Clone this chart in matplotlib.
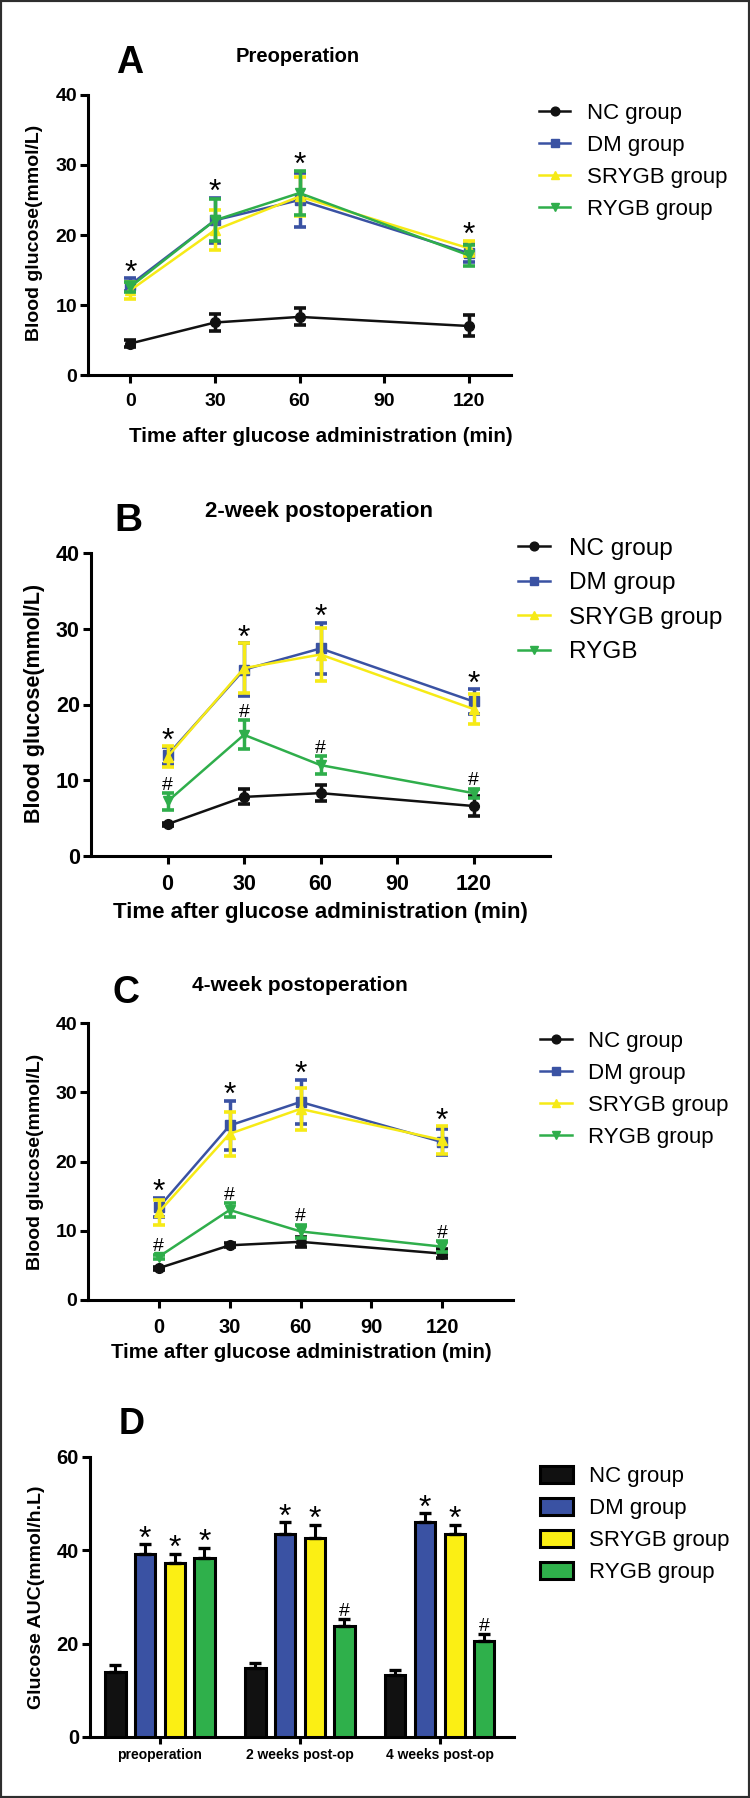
import matplotlib
matplotlib.use('Agg')
import matplotlib.pyplot as plt
from matplotlib.patches import Rectangle
import numpy as np

plt.rcParams['font.family'] = ['Liberation Sans', 'DejaVu Sans']

# ---------------- data ----------------
times = [0, 30, 60, 120]
xticks_line = [0, 30, 60, 90, 120]
yticks_line = [0, 10, 20, 30, 40]
group_names = ['NC group', 'DM group', 'SRYGB group', 'RYGB group']
group_names_B = ['NC group', 'DM group', 'SRYGB group', 'RYGB']

# Panel A: preoperation
a_nc = [4.5, 7.5, 8.3, 7.0]
a_nc_err = [0.5, 1.15, 1.2, 1.5]
a_dm = [12.9, 22.1, 25.0, 17.4]
a_dm_err = [0.9, 3.2, 3.9, 1.3]
a_sr = [12.1, 20.7, 25.5, 18.1]
a_sr_err = [1.2, 2.9, 2.8, 1.1]
a_ry = [12.6, 22.1, 26.0, 17.1]
a_ry_err = [0.7, 3.0, 3.2, 1.5]
a_star = ['*', '*', '*', '*']
a_hash = ['', '', '', '']

# Panel B: 2-week postoperation
b_nc = [4.2, 7.8, 8.3, 6.6]
b_nc_err = [0.2, 1.0, 1.1, 1.3]
b_dm = [13.3, 24.6, 27.4, 20.4]
b_dm_err = [1.1, 3.5, 3.4, 1.6]
b_sr = [13.1, 24.8, 26.6, 19.4]
b_sr_err = [1.4, 3.3, 3.5, 2.0]
b_ry = [7.2, 16.0, 12.0, 8.3]
b_ry_err = [1.1, 1.9, 1.2, 0.6]
b_star = ['*', '*', '*', '*']
b_hash = ['#', '#', '#', '#']

# Panel C: 4-week postoperation
c_nc = [4.6, 7.9, 8.4, 6.7]
c_nc_err = [0.2, 0.3, 0.7, 0.7]
c_dm = [13.4, 25.2, 28.6, 22.8]
c_dm_err = [1.4, 3.6, 3.2, 1.9]
c_sr = [12.7, 24.0, 27.6, 23.1]
c_sr_err = [1.8, 3.2, 3.0, 2.0]
c_ry = [6.25, 13.0, 9.9, 7.7]
c_ry_err = [0.3, 1.0, 1.0, 0.8]
c_star = ['*', '*', '*', '*']
c_hash = ['#', '#', '#', '#']

# Panel D: glucose AUC
d_cats = ['preoperation', '2 weeks post-op', '4 weeks post-op']
d_nc = [14.0, 14.7, 13.2]
d_nc_err = [1.4, 1.2, 1.1]
d_dm = [39.2, 43.5, 46.0]
d_dm_err = [2.1, 2.5, 1.9]
d_sr = [37.2, 42.6, 43.4]
d_sr_err = [2.1, 2.9, 2.1]
d_ry = [38.4, 23.8, 20.5]
d_ry_err = [2.2, 1.4, 1.5]
d_marks = [['', '*', '*', '*'], ['', '*', '*', '#'], ['', '*', '*', '#']]
yticks_bar = [0, 20, 40, 60]

# ---------------- style ----------------
line_colors = ['#111111', '#3A52A3', '#F6EA16', '#2FAE4B']
bar_colors = ['#111111', '#3A52A3', '#FBEF14', '#2FB04B']
line_markers = ['o', 's', '^', 'v']
STAR_FS, STAR_OFF = 23, -2.5
HASH_FS, HASH_OFF = 14, 2.5

W, H = 750, 1798
fig = plt.figure(figsize=(W / 100, H / 100), dpi=100)


def fx(px):
    return px / W


def fy(py):
    return 1 - py / H


def style_axes(ax, xsize, ysize, xpad):
    for s in ['top', 'right']:
        ax.spines[s].set_visible(False)
    for s in ['left', 'bottom']:
        ax.spines[s].set_linewidth(2.2)
    ax.tick_params(axis='both', width=2.2, length=6, direction='out')
    ax.tick_params(axis='y', labelsize=ysize, pad=2)
    ax.tick_params(axis='x', labelsize=xsize, pad=xpad)
    for lbl in ax.get_xticklabels() + ax.get_yticklabels():
        lbl.set_fontweight('bold')


def mark(ax, sym, x, top):
    if sym == '*':
        fs, off = STAR_FS, STAR_OFF
    else:
        fs, off = HASH_FS, HASH_OFF
    ax.annotate(sym, xy=(x, top), xytext=(0, off), textcoords='offset points',
                ha='center', va='baseline', fontsize=fs, zorder=10)


def line_panel(rect, xlim, means, errs, stars, hashes, labels,
               tick_fs, xtick_fs, leg_anchor, leg_fs, leg_hl, leg_pad, leg_sp):
    ax = fig.add_axes(rect)
    conts = []
    for g in range(4):
        c = ax.errorbar(times, means[g], yerr=errs[g], color=line_colors[g],
                        marker=line_markers[g], ms=7, lw=1.8, elinewidth=2.5,
                        capsize=4.3, capthick=2.6, zorder=3 + g)
        conts.append(c)
    ax.set_xlim(*xlim)
    ax.set_ylim(0, 40)
    ax.set_xticks(xticks_line)
    ax.set_xticklabels([str(v) for v in xticks_line])
    ax.set_yticks(yticks_line)
    ax.set_yticklabels([str(v) for v in yticks_line])
    style_axes(ax, xtick_fs, tick_fs, 7)
    for i, t in enumerate(times):
        if stars[i]:
            top = max(means[g][i] + errs[g][i] for g in (1, 2, 3))
            mark(ax, stars[i], t, top)
        if hashes[i]:
            top = means[3][i] + errs[3][i]
            mark(ax, hashes[i], t, top)
    handles = [c.lines[0] for c in conts]
    ax.legend(handles, labels, loc='center left', bbox_to_anchor=leg_anchor,
              bbox_transform=fig.transFigure, frameon=False,
              prop={'size': leg_fs}, handlelength=leg_hl, handletextpad=leg_pad,
              labelspacing=leg_sp, borderpad=0, borderaxespad=0, numpoints=1,
              markerscale=0.9)
    return ax


# Panel A
axA = line_panel([fx(88), fy(375), (511 - 88) / W, 280 / H], (-15, 135),
                 [a_nc, a_dm, a_sr, a_ry], [a_nc_err, a_dm_err, a_sr_err, a_ry_err],
                 a_star, a_hash, group_names, 14, 14,
                 (fx(539), fy(161.5)), 16, 1.4, 0.75, 0.5)
fig.text(fx(130), fy(63), 'A', fontsize=27, fontweight='bold', ha='center', va='center')
fig.text(fx(298), fy(57), 'Preoperation', fontsize=14.5, fontweight='bold', ha='center', va='center')
fig.text(fx(35), fy(233), 'Blood glucose(mmol/L)', fontsize=14, fontweight='bold',
         rotation=90, ha='center', va='center')
fig.text(fx(321), fy(436), 'Time after glucose administration (min)', fontsize=14.8,
         fontweight='bold', ha='center', va='center')

# Panel B
axB = line_panel([fx(91), fy(856), (550 - 91) / W, 303 / H], (-30, 150),
                 [b_nc, b_dm, b_sr, b_ry], [b_nc_err, b_dm_err, b_sr_err, b_ry_err],
                 b_star, b_hash, group_names_B, 15.5, 15.5,
                 (fx(518), fy(600.5)), 17.5, 1.3, 0.8, 0.52)
fig.text(fx(128), fy(521), 'B', fontsize=28, fontweight='bold', ha='center', va='center')
fig.text(fx(319), fy(512), '2-week postoperation', fontsize=16, fontweight='bold',
         ha='center', va='center')
fig.text(fx(35), fy(703), 'Blood glucose(mmol/L)', fontsize=15.5, fontweight='bold',
         rotation=90, ha='center', va='center')
fig.text(fx(320), fy(912), 'Time after glucose administration (min)', fontsize=16,
         fontweight='bold', ha='center', va='center')

# Panel C
axC = line_panel([fx(88), fy(1300), (513 - 88) / W, 277 / H], (-30, 150),
                 [c_nc, c_dm, c_sr, c_ry], [c_nc_err, c_dm_err, c_sr_err, c_ry_err],
                 c_star, c_hash, group_names, 14, 14.5,
                 (fx(540), fy(1089.5)), 16, 1.45, 0.72, 0.5)
fig.text(fx(126), fy(993), 'C', fontsize=27, fontweight='bold', ha='center', va='center')
fig.text(fx(300), fy(986), '4-week postoperation', fontsize=15, fontweight='bold',
         ha='center', va='center')
fig.text(fx(36), fy(1162), 'Blood glucose(mmol/L)', fontsize=14, fontweight='bold',
         rotation=90, ha='center', va='center')
fig.text(fx(301), fy(1352), 'Time after glucose administration (min)', fontsize=14.7,
         fontweight='bold', ha='center', va='center')

# Panel D
axD = fig.add_axes([fx(90), fy(1737), (514 - 90) / W, 280 / H])
xcat = np.arange(len(d_cats))
pitch = 0.212
width = 0.145
d_means = [d_nc, d_dm, d_sr, d_ry]
d_errs = [d_nc_err, d_dm_err, d_sr_err, d_ry_err]
bars = []
for g in range(4):
    pos = xcat + (g - 1.5) * pitch
    b = axD.bar(pos, d_means[g], width=width, color=bar_colors[g], edgecolor='black',
                linewidth=2.2, yerr=[np.zeros(len(d_cats)), d_errs[g]],
                error_kw=dict(ecolor='black', elinewidth=2.2, capsize=4.3, capthick=2.4),
                zorder=3, label=group_names[g])
    bars.append(b)
    for i in range(len(d_cats)):
        m = d_marks[i][g]
        if m:
            mark(axD, m, pos[i], d_means[g][i] + d_errs[g][i])
axD.set_xlim(-0.5, 2.53)
axD.set_ylim(0, 60)
axD.set_xticks(xcat)
axD.set_xticklabels(d_cats)
axD.set_yticks(yticks_bar)
axD.set_yticklabels([str(v) for v in yticks_bar])
style_axes(axD, 10, 14.5, 3)
axD.tick_params(axis='x', length=5)
axD.legend(bars, group_names, loc='center left', bbox_to_anchor=(fx(540), fy(1524.5)),
           bbox_transform=fig.transFigure, frameon=False, prop={'size': 16},
           handlelength=1.5, handleheight=0.85, handletextpad=0.72, labelspacing=0.47,
           borderpad=0, borderaxespad=0)
fig.text(fx(132), fy(1425), 'D', fontsize=26, fontweight='bold', ha='center', va='center')
fig.text(fx(37), fy(1597), 'Glucose AUC(mmol/h.L)', fontsize=14, fontweight='bold',
         rotation=90, ha='center', va='center')

# outer frame
fig.add_artist(Rectangle((0, 0), 1, 1, transform=fig.transFigure, fill=False,
                         edgecolor='#2e2e2e', linewidth=3))

fig.savefig('out.png', dpi=100)
